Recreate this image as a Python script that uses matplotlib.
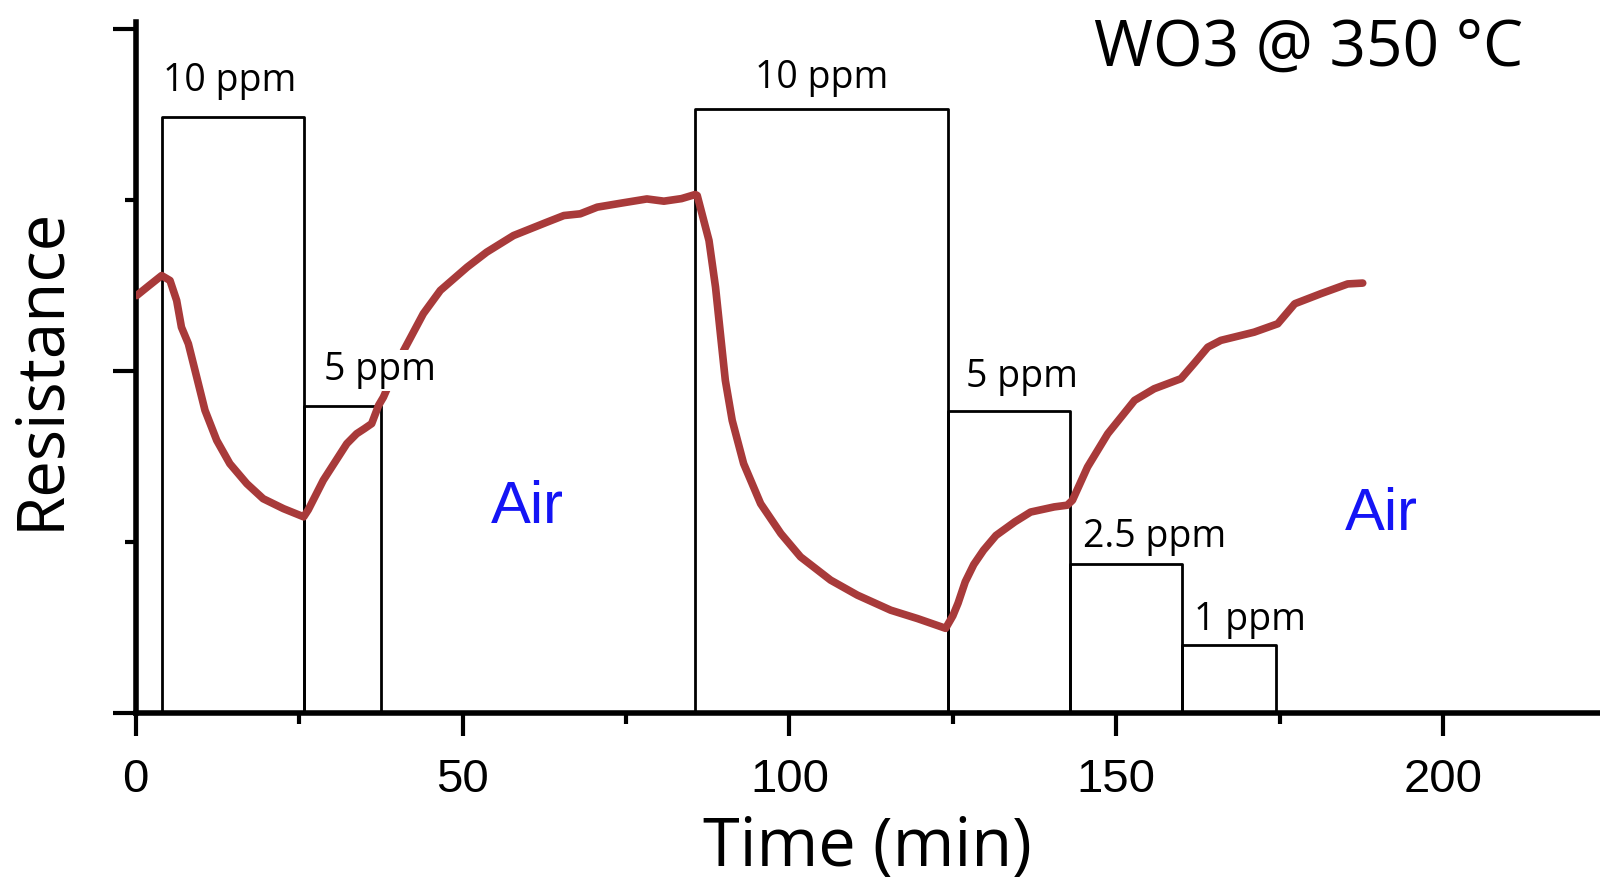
import numpy as np
import matplotlib.pyplot as plt

# resistance trace (time in min, resistance in arb. units)
t = [0.15, 2.0, 3.97, 5.25, 6.27, 7.0, 8.06, 9.33, 10.6, 12.4, 14.4, 17.0, 19.5, 22.6, 25.7,
     26.4, 28.7, 30.5, 32.3, 33.8, 35.0, 36.1, 37.16, 37.9, 41.0, 44.0, 46.6, 50.7,
     53.7, 57.8, 62.9, 65.5, 68.0, 70.6, 74.5, 78.2, 80.8, 83.5, 85.6,
     85.9, 87.7, 88.7, 89.5, 90.2, 91.25, 93.0, 95.6, 98.7, 101.7, 106.3, 110.4,
     115.5, 119.6, 123.9,
     125.0, 125.8, 126.9, 128.2, 129.7, 131.6, 134.5, 136.9, 140.5, 142.5,
     143.3, 145.6, 148.7, 152.8, 155.8, 159.9, 162.0, 164.0, 166.0, 171.1, 174.7,
     177.3, 181.3, 185.4, 187.7]
r = [2.443, 2.50, 2.56, 2.531, 2.414, 2.258, 2.161, 1.967, 1.772, 1.596, 1.46, 1.343, 1.255, 1.197, 1.149,
     1.19, 1.363, 1.47, 1.577, 1.635, 1.665, 1.694, 1.801, 1.849, 2.122, 2.337, 2.473, 2.609,
     2.697, 2.794, 2.872, 2.911, 2.921, 2.96, 2.985, 3.008, 2.995, 3.01, 3.034,
     3.028, 2.765, 2.492, 2.2, 1.947, 1.713, 1.46, 1.226, 1.051, 0.915, 0.779, 0.691,
     0.603, 0.554, 0.497,
     0.57, 0.644, 0.769, 0.87, 0.954, 1.04, 1.12, 1.177, 1.207, 1.217,
     1.246, 1.44, 1.635, 1.83, 1.898, 1.957, 2.05, 2.141, 2.181, 2.229, 2.278,
     2.395, 2.454, 2.511, 2.516]

# gas pulses: start, end, height, label
pulse_start = [4.0, 25.8, 85.6, 124.2, 143.0, 160.0]
pulse_end = [25.8, 37.5, 124.2, 143.0, 160.0, 174.5]
pulse_top = [3.487, 1.80, 3.535, 1.77, 0.876, 0.40]
pulse_label = ['10 ppm', '5 ppm', '10 ppm', '5 ppm', '2.5 ppm', '1 ppm']
label_x = [14.4, 37.3, 105.0, 135.5, 155.8, 170.5]
label_y = [3.642, 1.949, 3.654, 1.908, 0.973, 0.486]

air_x = [59.9, 190.5]
air_y = [1.111, 1.071]

fig = plt.figure(figsize=(16, 8.85), dpi=100)
ax = fig.add_axes([0.0848, 0.194, 0.9152, 0.7806])

for s, e, h in zip(pulse_start, pulse_end, pulse_top):
    ax.plot([s, s, e, e], [0, h, h, 0], color='black', lw=2.0, zorder=2)

ax.plot(t, r, color='#a83a3a', lw=5.5, solid_capstyle='round',
        solid_joinstyle='round', zorder=3)

for x, y, s in zip(label_x, label_y, pulse_label):
    ax.text(x, y, s, ha='center', va='baseline', fontsize=27, family='Open Sans',
            bbox=dict(facecolor='white', edgecolor='none', pad=1), zorder=4)

for x, y in zip(air_x, air_y):
    ax.text(x, y, 'Air', ha='center', va='baseline', fontsize=43,
            family='Liberation Sans', color='#1414f5')

ax.text(179.5, 3.787, 'WO3 @ 350 °C', ha='center', va='baseline', fontsize=46,
        family='Open Sans')

ax.set_xlim(0, 224)
ax.set_ylim(0, 4.04)
ax.set_xticks([0, 50, 100, 150, 200])
ax.set_xticks([25, 75, 125, 175], minor=True)
ax.set_yticks([0, 2, 4])
ax.set_yticks([1, 3], minor=True)
ax.set_yticklabels([])
for lab in ax.get_xticklabels():
    lab.set_family('Liberation Sans')
ax.tick_params(which='major', direction='out', length=16.5, width=3, labelsize=34, pad=16)
ax.tick_params(which='minor', direction='out', length=8, width=3)
for side in ['top', 'right']:
    ax.spines[side].set_visible(False)
for side in ['left', 'bottom']:
    ax.spines[side].set_linewidth(4)

ax.set_xlabel('Time (min)', fontsize=48, family='Open Sans', labelpad=9)
ax.set_ylabel('Resistance', fontsize=47, family='Open Sans', labelpad=12)

fig.savefig('out.png', dpi=100)
